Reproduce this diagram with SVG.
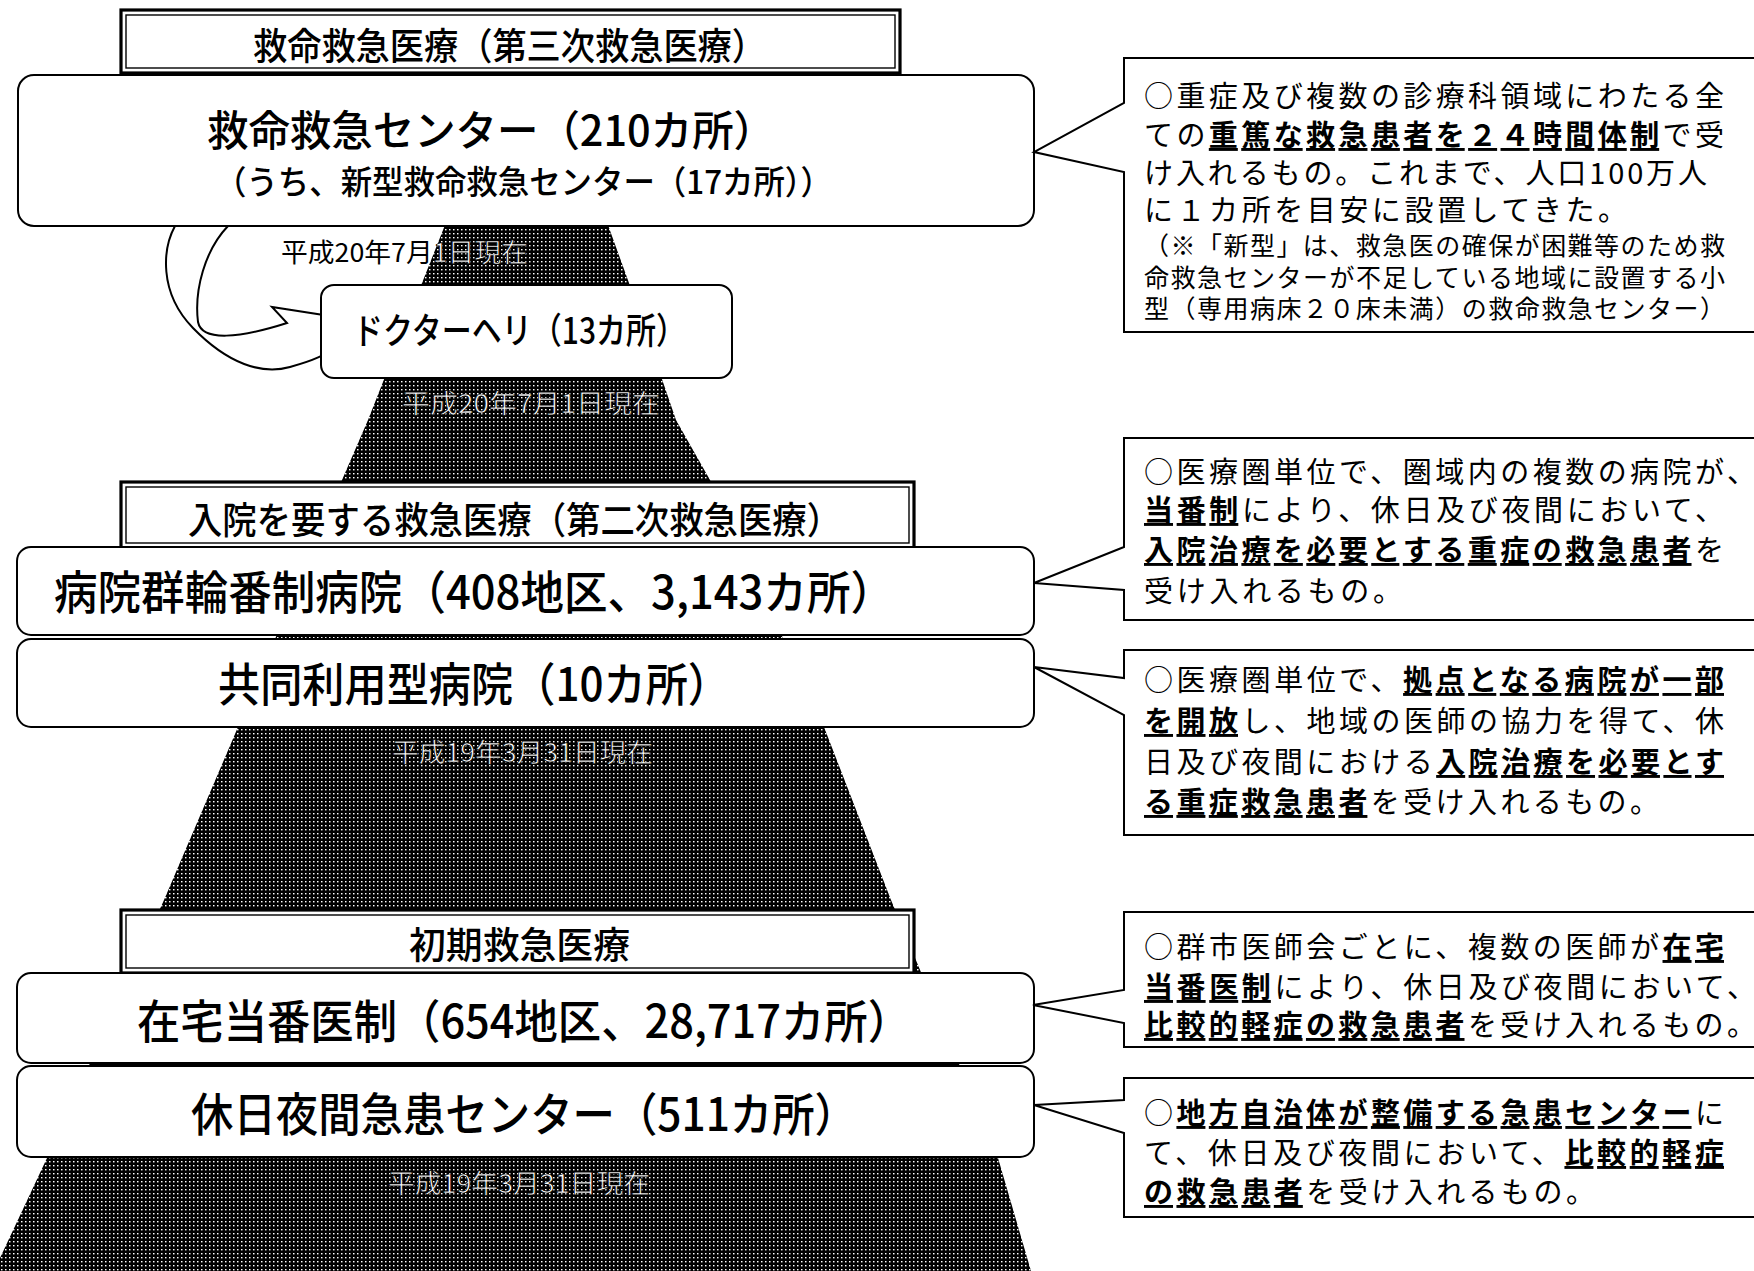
<svg xmlns="http://www.w3.org/2000/svg" xmlns:xlink="http://www.w3.org/1999/xlink" width="1754" height="1271" viewBox="0 0 1754 1271">
<style>
.jp{font-family:"Noto Sans CJK JP","Noto Sans CJK SC",sans-serif;}
.node{fill:#fff;stroke:#000;stroke-width:2;}
.ttl-o{fill:#fff;stroke:#000;stroke-width:3.2;}
.ttl-i{fill:none;stroke:#000;stroke-width:1.4;}
.ttl{font-size:37px;font-weight:500;fill:#000;}
.big{font-size:46px;font-weight:500;fill:#000;}
.date{font-size:26px;fill:#fff;stroke:#000;stroke-width:0.7;}
.desc{font-size:29px;fill:#000;}
.small{font-size:25px;fill:#000;}
.u{font-weight:700;text-decoration:underline;}
.call{fill:#fff;stroke:#000;stroke-width:2;stroke-linejoin:miter;}
.conn{fill:none;stroke:#000;stroke-width:2;}
</style>
<defs>
<pattern id="dots" width="4" height="4" patternUnits="userSpaceOnUse">
<rect width="4" height="4" fill="#000"/>
<rect x="1" y="1" width="1.5" height="1.4" fill="#fff"/>
</pattern>
<clipPath id="pyrclip">
<polygon points="455,215 445,225 422,283 368,420 342,480 238,727 164,900 47,1158 0,1258 0,1271 1031,1271 998,1158 891,900 824,727 710,480 676,420 629,283 608,225 600,215"/>
</clipPath>
</defs>
<rect width="1754" height="1271" fill="#fff"/>

<g id="pyramid">
<polygon points="455,215 445,225 422,283 368,420 342,480 238,727 164,900 47,1158 0,1258 0,1271 1031,1271 998,1158 891,900 824,727 710,480 676,420 629,283 608,225 600,215" fill="url(#dots)"/>
</g>

<g id="connectors">
<path class="conn" d="M175,226 C163,248 158,292 193,328 S262,375 290,367 S315,358 324,355"/>
<path class="conn" d="M228,226 C205,250 194,290 198,322 C202,342 240,338 287,323 L272,307 L330,316"/>
</g>

<g id="title1">
<rect class="ttl-o" x="121" y="10" width="779" height="63"/>
<rect class="ttl-i" x="126" y="15" width="769" height="53"/>
<text class="jp ttl" x="253" y="60" textLength="513" lengthAdjust="spacingAndGlyphs">救命救急医療（第三次救急医療）</text>
</g>

<g id="node-center">
<rect class="node" x="18" y="75" width="1016" height="151" rx="16"/>
<text class="jp" x="207" y="146" font-size="42" font-weight="500" textLength="568" lengthAdjust="spacingAndGlyphs">救命救急センター（210カ所）</text>
<text class="jp" x="215" y="194" font-size="33" font-weight="500" textLength="617" lengthAdjust="spacingAndGlyphs">（うち、新型救命救急センター（17カ所））</text>
</g>

<g id="date1">
<text class="jp" x="281" y="262" font-size="26" fill="#000" textLength="247" lengthAdjust="spacingAndGlyphs">平成20年7月1日現在</text>
<text class="jp date" x="281" y="262" textLength="247" lengthAdjust="spacingAndGlyphs" clip-path="url(#pyrclip)">平成20年7月1日現在</text>
</g>

<g id="node-heli">
<rect class="node" x="321" y="285" width="411" height="93" rx="13"/>
<text class="jp" x="353" y="344" font-size="36" font-weight="500" textLength="333" lengthAdjust="spacingAndGlyphs">ドクターヘリ（13カ所）</text>
</g>

<g id="date2">
<text class="jp date" x="402" y="413" textLength="258" lengthAdjust="spacingAndGlyphs">平成20年7月1日現在</text>
</g>

<g id="title2">
<rect class="ttl-o" x="121" y="482" width="793" height="66"/>
<rect class="ttl-i" x="126" y="487" width="783" height="56"/>
<text class="jp ttl" x="188" y="534" textLength="653" lengthAdjust="spacingAndGlyphs">入院を要する救急医療（第二次救急医療）</text>
</g>

<g id="node-rinban">
<rect class="node" x="17" y="547" width="1017" height="88" rx="14"/>
<text class="jp big" x="54" y="609" textLength="840" lengthAdjust="spacingAndGlyphs">病院群輪番制病院（408地区、3,143カ所）</text>
</g>

<g id="node-kyodo">
<rect class="node" x="17" y="639" width="1017" height="88" rx="14"/>
<text class="jp big" x="218" y="701" textLength="512" lengthAdjust="spacingAndGlyphs">共同利用型病院（10カ所）</text>
</g>

<g id="date3">
<text class="jp date" x="392" y="762" textLength="261" lengthAdjust="spacingAndGlyphs">平成19年3月31日現在</text>
</g>

<g id="title3">
<rect class="ttl-o" x="121" y="910" width="793" height="63"/>
<rect class="ttl-i" x="126" y="915" width="783" height="53"/>
<text class="jp ttl" x="409" y="959" textLength="221" lengthAdjust="spacingAndGlyphs">初期救急医療</text>
</g>

<g id="node-zaitaku">
<rect class="node" x="17" y="973" width="1017" height="90" rx="14"/>
<text class="jp big" x="137" y="1038" textLength="774" lengthAdjust="spacingAndGlyphs">在宅当番医制（654地区、28,717カ所）</text>
</g>

<g id="node-kyujitsu">
<rect class="node" x="17" y="1066" width="1017" height="91" rx="14"/>
<text class="jp big" x="191" y="1131" textLength="666" lengthAdjust="spacingAndGlyphs">休日夜間急患センター（511カ所）</text>
</g>

<g id="date4">
<text class="jp date" x="388" y="1193" textLength="262" lengthAdjust="spacingAndGlyphs">平成19年3月31日現在</text>
</g>

<g id="callout1">
<path class="call" d="M1124,58 L1124,103 L1034,152 L1124,172 L1124,332 L1770,332 L1770,58 Z"/>
<text class="jp desc" x="1144" y="107" textLength="580">○重症及び複数の診療科領域にわたる全</text>
<text class="jp desc" x="1144" y="146" textLength="580">ての<tspan class="u">重篤な救急患者を２４時間体制</tspan>で受</text>
<text class="jp desc" x="1144" y="184" textLength="563">け入れるもの。これまで、人口100万人</text>
<text class="jp desc" x="1144" y="221" textLength="483">に１カ所を目安に設置してきた。</text>
<text class="jp small" x="1144" y="255" textLength="581">（※「新型」は、救急医の確保が困難等のため救</text>
<text class="jp small" x="1144" y="287" textLength="581">命救急センターが不足している地域に設置する小</text>
<text class="jp small" x="1144" y="318" textLength="581">型（専用病床２０床未満）の救命救急センター）</text>
</g>

<g id="callout2">
<path class="call" d="M1124,438 L1124,547 L1034,583 L1124,590 L1124,620 L1770,620 L1770,438 Z"/>
<text class="jp desc" x="1144" y="483" textLength="612">○医療圏単位で、圏域内の複数の病院が、</text>
<text class="jp desc" x="1144" y="521" textLength="580"><tspan class="u">当番制</tspan>により、休日及び夜間において、</text>
<text class="jp desc" x="1144" y="561" textLength="580"><tspan class="u">入院治療を必要とする重症の救急患者</tspan>を</text>
<text class="jp desc" x="1144" y="602" textLength="258">受け入れるもの。</text>
</g>

<g id="callout3">
<path class="call" d="M1124,650 L1124,678 L1034,667 L1124,715 L1124,835 L1770,835 L1770,650 Z"/>
<text class="jp desc" x="1144" y="691" textLength="580">○医療圏単位で、<tspan class="u">拠点となる病院が一部</tspan></text>
<text class="jp desc" x="1144" y="732" textLength="580"><tspan class="u">を開放</tspan>し、地域の医師の協力を得て、休</text>
<text class="jp desc" x="1144" y="773" textLength="580">日及び夜間における<tspan class="u">入院治療を必要とす</tspan></text>
<text class="jp desc" x="1144" y="813" textLength="515"><tspan class="u">る重症救急患者</tspan>を受け入れるもの。</text>
</g>

<g id="callout4">
<path class="call" d="M1124,912 L1124,990 L1033,1005 L1124,1023 L1124,1047 L1770,1047 L1770,912 Z"/>
<text class="jp desc" x="1144" y="958" textLength="580">○群市医師会ごとに、複数の医師が<tspan class="u">在宅</tspan></text>
<text class="jp desc" x="1144" y="998" textLength="612"><tspan class="u">当番医制</tspan>により、休日及び夜間において、</text>
<text class="jp desc" x="1144" y="1036" textLength="612"><tspan class="u">比較的軽症の救急患者</tspan>を受け入れるもの。</text>
</g>

<g id="callout5">
<path class="call" d="M1124,1078 L1124,1100 L1034,1105 L1124,1133 L1124,1217 L1770,1217 L1770,1078 Z"/>
<text class="jp desc" x="1144" y="1124" textLength="580">○<tspan class="u">地方自治体が整備する急患センター</tspan>に</text>
<text class="jp desc" x="1144" y="1164" textLength="580">て、休日及び夜間において、<tspan class="u">比較的軽症</tspan></text>
<text class="jp desc" x="1144" y="1203" textLength="451"><tspan class="u">の救急患者</tspan>を受け入れるもの。</text>
</g>
</svg>
